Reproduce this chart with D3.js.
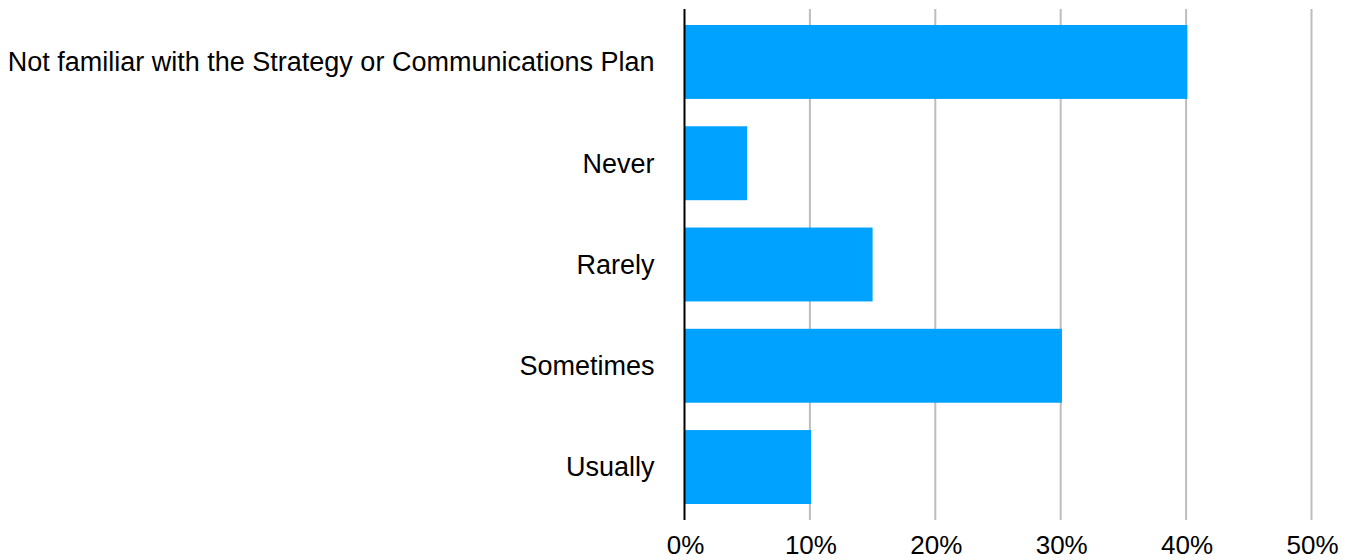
<!DOCTYPE html>
<html>
<head>
<meta charset="utf-8">
<script src="https://cdn.jsdelivr.net/npm/d3@7"></script>
<style>
  html, body { margin: 0; padding: 0; background: #fff; }
  svg { display: block; }
  text { font-family: "Liberation Sans", Arial, Helvetica, sans-serif; fill: #000; }
</style>
</head>
<body>
<svg id="chart" width="1347" height="560"></svg>
<script>
// Survey responses, share of respondents (%)
const categories = [
  "Not familiar with the Strategy or Communications Plan",
  "Never",
  "Rarely",
  "Sometimes",
  "Usually"
];
const values = [40.1, 5, 15, 30.1, 10.1];
const tickValues = [0, 10, 20, 30, 40, 50];
const tickLabels = ["0%", "10%", "20%", "30%", "40%", "50%"];

const svg = d3.select("#chart");
const plotLeft = 684.5, plotRight = 1311.5, plotTop = 9, plotBottom = 520;

const x = d3.scaleLinear().domain([0, 50]).range([plotLeft, plotRight]);
const y = d3.scaleBand()
  .domain(categories)
  .range([plotTop, plotBottom])
  .paddingInner(0.27)
  .paddingOuter(0.158);

// vertical gridlines
svg.append("g")
  .selectAll("line")
  .data(tickValues.filter(d => d > 0))
  .join("line")
  .attr("x1", d => x(d)).attr("x2", d => x(d))
  .attr("y1", plotTop).attr("y2", plotBottom)
  .attr("stroke", "#bdbdbd")
  .attr("stroke-width", 2);

// bars
svg.append("g")
  .selectAll("rect")
  .data(categories)
  .join("rect")
  .attr("x", x(0))
  .attr("y", d => y(d))
  .attr("width", (d, i) => x(values[i]) - x(0))
  .attr("height", y.bandwidth())
  .attr("fill", "#00a2ff");

// category axis line
svg.append("line")
  .attr("x1", x(0)).attr("x2", x(0))
  .attr("y1", plotTop).attr("y2", plotBottom)
  .attr("stroke", "#000")
  .attr("stroke-width", 2);

// category labels
svg.append("g")
  .selectAll("text")
  .data(categories)
  .join("text")
  .attr("x", x(0) - 30)
  .attr("y", d => y(d) + y.bandwidth() / 2)
  .attr("dy", "0.35em")
  .attr("text-anchor", "end")
  .attr("font-size", 27)
  .text(d => d);

// value axis tick labels
svg.append("g")
  .selectAll("text")
  .data(tickValues)
  .join("text")
  .attr("x", d => x(d) + 1)
  .attr("y", 554)
  .attr("text-anchor", "middle")
  .attr("font-size", 26)
  .text((d, i) => tickLabels[i]);
</script>
</body>
</html>
